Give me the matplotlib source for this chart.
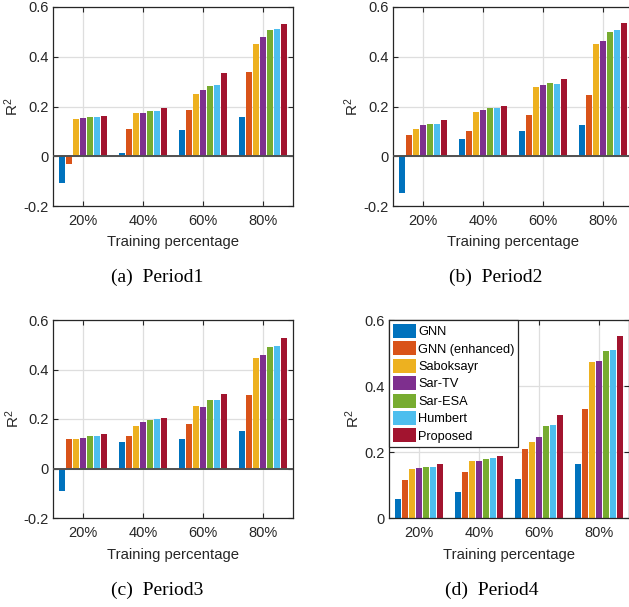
import numpy as np
import matplotlib
matplotlib.use('Agg')
import matplotlib.pyplot as plt
from matplotlib.ticker import FormatStrFormatter

plt.rcParams['font.family'] = 'Liberation Sans'
plt.rcParams['mathtext.default'] = 'regular'

methods = ['GNN', 'GNN (enhanced)', 'Saboksayr', 'Sar-TV', 'Sar-ESA', 'Humbert', 'Proposed']
colors = ['#0072BD', '#D95319', '#EDB120', '#7E2F8E', '#77AC30', '#4DBEEE', '#A2142F']
percents = ['20%', '40%', '60%', '80%']

# rows = training percentage, columns = methods
period1 = [[-0.106, -0.030, 0.149, 0.152, 0.156, 0.159, 0.161],
           [0.015, 0.108, 0.172, 0.173, 0.180, 0.183, 0.194],
           [0.106, 0.184, 0.251, 0.266, 0.281, 0.286, 0.333],
           [0.156, 0.339, 0.453, 0.481, 0.507, 0.510, 0.531]]
period2 = [[-0.147, 0.085, 0.110, 0.124, 0.129, 0.129, 0.145],
           [0.071, 0.101, 0.179, 0.186, 0.194, 0.195, 0.202],
           [0.102, 0.167, 0.280, 0.285, 0.293, 0.290, 0.311],
           [0.126, 0.246, 0.453, 0.465, 0.500, 0.506, 0.534]]
period3 = [[-0.089, 0.118, 0.118, 0.122, 0.130, 0.133, 0.140],
           [0.106, 0.132, 0.173, 0.188, 0.196, 0.199, 0.204],
           [0.120, 0.180, 0.253, 0.247, 0.276, 0.276, 0.301],
           [0.152, 0.297, 0.445, 0.458, 0.492, 0.493, 0.526]]
period4 = [[0.057, 0.116, 0.148, 0.151, 0.155, 0.155, 0.165],
           [0.078, 0.140, 0.172, 0.172, 0.179, 0.181, 0.189],
           [0.118, 0.209, 0.231, 0.246, 0.280, 0.281, 0.312],
           [0.165, 0.329, 0.473, 0.475, 0.506, 0.509, 0.553]]

captions = ['(a)  Period1', '(b)  Period2', '(c)  Period3', '(d)  Period4']

W, H = 629, 607
fig = plt.figure(figsize=(W / 100, H / 100), dpi=100)

# axes boxes in pixels: left, top, width, height
boxes = [(53, 7, 240, 199), (393, 7, 240, 199), (53, 320, 240, 198), (389, 320, 240, 198)]
cap_pos = [(157, 277), (496, 277), (157, 590), (492, 590)]
ylabel_x = [-0.171, -0.171, -0.167, -0.15]

pitch = 0.8 / 7
width = 0.1
x = np.arange(1, 5)

for k, data in enumerate([period1, period2, period3, period4]):
    l, t, w, h = boxes[k]
    ax = fig.add_axes([l / W, 1 - (t + h) / H, w / W, h / H])
    vals = np.array(data)
    bars = []
    for j in range(len(methods)):
        b = ax.bar(x + (j - 3) * pitch, vals[:, j], width, color=colors[j], zorder=2)
        bars.append(b)
    ax.set_xlim(0.5, 4.5)
    if k == 3:
        ax.set_ylim(0, 0.6)
        ax.set_yticks([0, 0.2, 0.4, 0.6])
    else:
        ax.set_ylim(-0.2, 0.6)
        ax.set_yticks([-0.2, 0, 0.2, 0.4, 0.6])
        ax.axhline(0, color='#505050', lw=1.4, zorder=3)
    ax.yaxis.set_major_formatter(FormatStrFormatter('%g'))
    ax.set_xticks(x)
    ax.set_xticklabels(percents)
    ax.grid(True, color='#dedede', lw=0.9)
    ax.set_axisbelow(True)
    for s in ax.spines.values():
        s.set_color('#262626')
        s.set_linewidth(0.9)
    ax.tick_params(direction='in', length=3.5, width=0.8, colors='#262626',
                   labelsize=10.5, top=True, right=True)
    ax.tick_params(axis='x', pad=6)
    ax.tick_params(axis='y', pad=3)
    ax.set_xlabel('Training percentage', fontsize=10.7, color='#262626', va='center')
    ax.xaxis.set_label_coords(0.5, -0.181 if k < 2 else -0.187)
    ax.set_ylabel('R$^2$', fontsize=11, color='#262626', va='center')
    ax.yaxis.set_label_coords(ylabel_x[k], 0.5)
    if k == 3:
        leg = ax.legend(bars, methods, loc='upper left', bbox_to_anchor=(0, 1),
                        borderaxespad=0, fontsize=9.2, fancybox=False, framealpha=1,
                        edgecolor='#262626', handlelength=1.8, handleheight=1.3,
                        labelspacing=0.25, handletextpad=0.18, borderpad=0.3)
        leg.get_frame().set_linewidth(0.9)
        leg.set_zorder(5)
    cx, cy = cap_pos[k]
    fig.text(cx / W, 1 - cy / H, captions[k], fontsize=14, family='Liberation Serif',
             ha='center', va='center')

fig.savefig('out.png', dpi=100)
